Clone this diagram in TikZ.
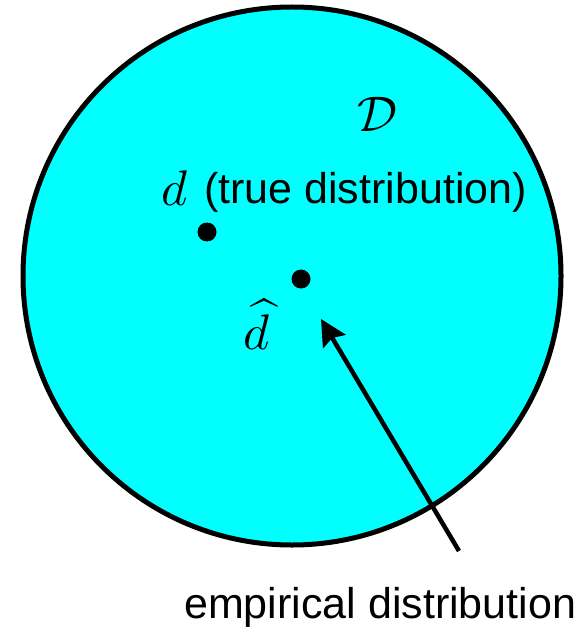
\documentclass[tikz,border=0pt]{standalone}
\usepackage{fontspec}
\setmainfont{Liberation Sans}
\usetikzlibrary{arrows.meta}
\definecolor{aqua}{HTML}{00FFFF}
\tikzset{
  lbl/.style={inner sep=0pt, font=\fontsize{43}{50}\selectfont},
  mlbl/.style={inner sep=0pt, font=\fontsize{10}{12}\selectfont, scale=5},
  dot/.style={circle, fill=black, minimum size=19pt, inner sep=0pt},
  pointer/.style={line width=4.5pt, -{Stealth[length=26pt,width=26pt,inset=4pt]}}
}
\begin{document}
\begin{tikzpicture}[x=1pt,y=-1pt]
\useasboundingbox (0,0) rectangle (586,631);
\node[circle, draw=black, fill=aqua, line width=5pt, minimum size=538pt, inner sep=0pt] (D) at (292,276) {};
\node[mlbl, anchor=base west] (Dlabel) at (356,132) {$\mathcal{D}$};
\node[mlbl, anchor=base west] (dlabel) at (160,205) {$d$};
\node[lbl, anchor=base west] (true) at (204,203) {(true distribution)};
\node[dot] (d) at (207,232) {};
\node[dot] (dh) at (301,279) {};
\node[mlbl, anchor=base west] (dhlabel) at (242,349) {$\widehat{d}$};
\coordinate (tail) at (459,551);
\coordinate (tip) at (321,319);
\draw[pointer] (tail) -- (tip);
\node[lbl, anchor=base west] (emp) at (184,618) {empirical distribution};
\end{tikzpicture}
\end{document}
